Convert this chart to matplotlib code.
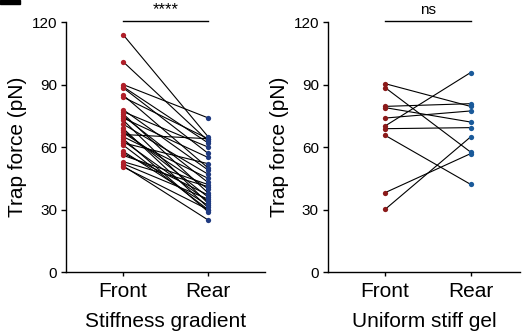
import matplotlib.pyplot as plt
from matplotlib.patches import Rectangle

plt.rcParams['font.family'] = ['Liberation Sans', 'DejaVu Sans']

groups = ['Front', 'Rear']

# stiffness gradient, paired front/rear trap force (pN)
grad_front = [114, 101, 90, 89, 88.5, 85, 84, 78, 77, 76, 75, 74, 73, 71, 69,
              68, 67, 66, 65, 64, 63, 62, 61, 58, 57, 56, 53, 52, 51, 50.5]
grad_rear = [65, 63, 74, 62, 57, 50, 64, 49, 60, 38, 43, 55, 33, 47, 31,
             36, 40, 64, 45, 29, 34, 52, 30, 32, 37, 42, 41, 35, 25, 30]

# uniform stiff gel
unif_front = [90.4, 88.5, 79.5, 78.9, 73.9, 70.1, 68.8, 65.6, 38.1, 30.1]
unif_rear = [79.5, 57.6, 80.8, 72.0, 77.3, 95.7, 69.3, 42.1, 56.8, 64.8]

yticks = [0, 30, 60, 90, 120]


def plot_pairs(ax, front, rear, c_front, c_rear, xlabel, sig, sig_size, xmax):
    for f, r in zip(front, rear):
        ax.plot([0, 1], [f, r], color='black', lw=0.8, zorder=1)
    ax.plot([0] * len(front), front, 'o', color=c_front, ms=3.8, mec='none', zorder=2)
    ax.plot([1] * len(rear), rear, 'o', color=c_rear, ms=3.8, mec='none', zorder=2)
    ax.set_xlim(-0.67, xmax)
    ax.set_ylim(0, 120)
    ax.set_yticks(yticks)
    ax.set_xticks([0, 1])
    ax.set_xticklabels(groups, fontsize=15)
    ax.tick_params(axis='y', labelsize=11, length=3.5, width=1, pad=3)
    ax.tick_params(axis='x', length=3, width=1, pad=4)
    ax.set_ylabel('Trap force (pN)', fontsize=15, labelpad=3)
    ax.set_xlabel(xlabel, fontsize=15, labelpad=8)
    for s in ['top', 'right']:
        ax.spines[s].set_visible(False)
    ax.spines['left'].set_linewidth(1)
    ax.spines['bottom'].set_linewidth(1)
    ax.plot([0, 1], [120.7, 120.7], color='black', lw=1, clip_on=False)
    ax.text(0.5, 122.5, sig, ha='center', va='bottom', fontsize=sig_size)


fig = plt.figure(figsize=(5.29, 3.34), dpi=100)
ax1 = fig.add_axes([0.1248, 0.1856, 0.376, 0.7485])
ax2 = fig.add_axes([0.62, 0.1856, 0.363, 0.7485])

plot_pairs(ax1, grad_front, grad_rear, '#b0202a', '#1f3a80',
           'Stiffness gradient', '****', 12, 1.67)
plot_pairs(ax2, unif_front, unif_rear, '#8b1a1a', '#1a5a9a',
           'Uniform stiff gel', 'ns', 11, 1.58)

# panel letter remnant at the top-left corner
fig.patches.append(Rectangle((0.0, 0.988), 0.038, 0.012, transform=fig.transFigure,
                             color='black'))

fig.savefig('out.png', dpi=100)
